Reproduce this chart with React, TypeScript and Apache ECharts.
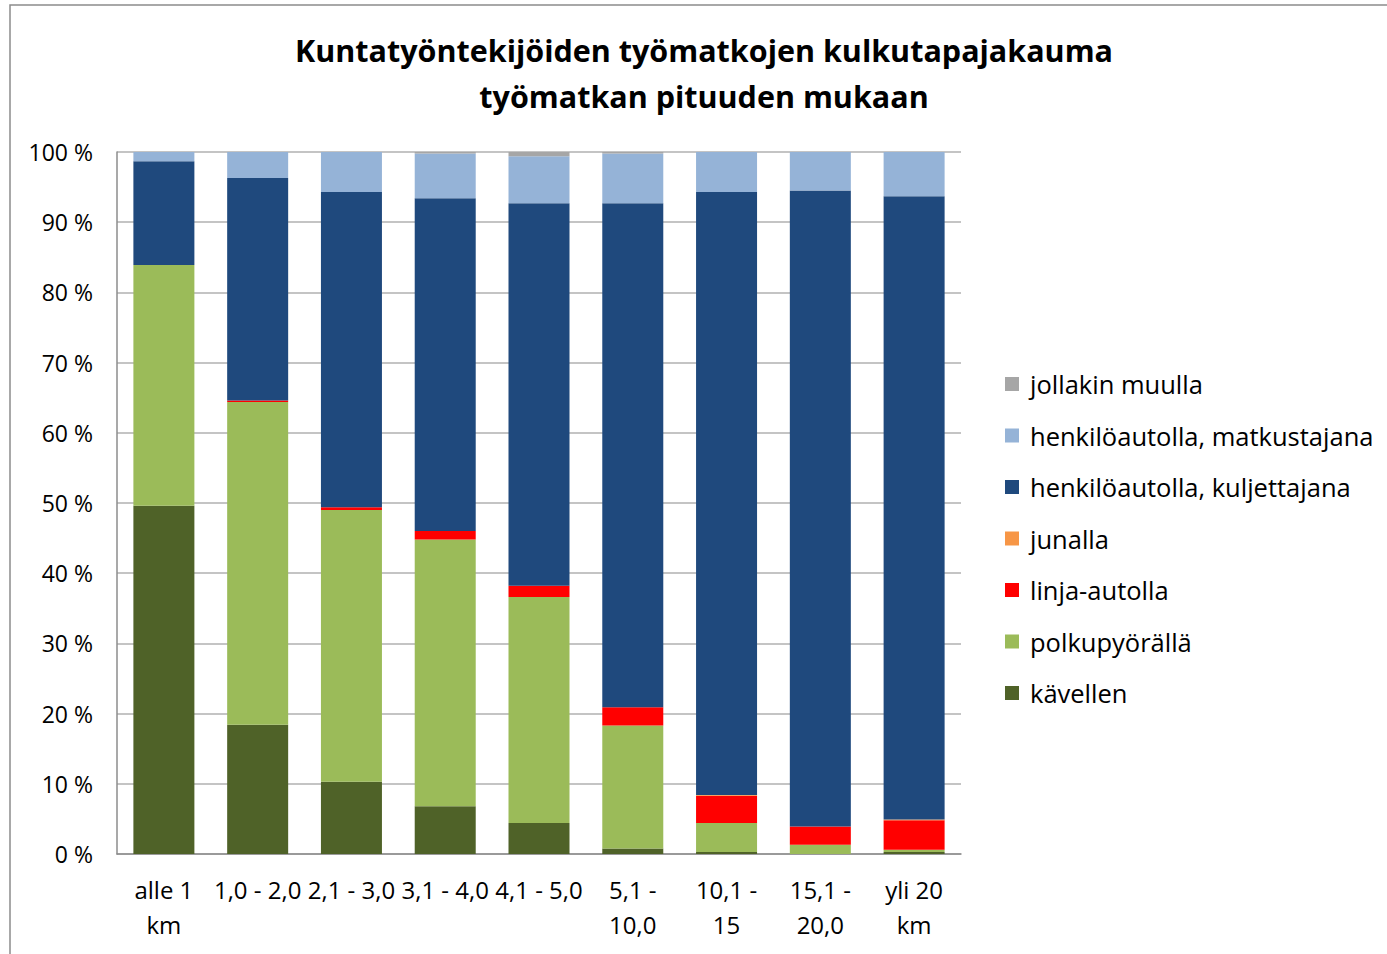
import React, { useEffect, useRef } from "react";
import * as echarts from "echarts";

const categories = ["alle 1\nkm", "1,0 - 2,0", "2,1 - 3,0", "3,1 - 4,0", "4,1 - 5,0", "5,1 -\n10,0", "10,1 -\n15", "15,1 -\n20,0", "yli 20\nkm"];
const kavellen = [49.6, 18.4, 10.3, 6.8, 4.4, 0.8, 0.3, 0, 0.3];
const polkupyoralla = [34.3, 46.0, 38.7, 38.0, 32.2, 17.5, 4.1, 1.3, 0.3];
const linjaAutolla = [0, 0.2, 0.4, 1.2, 1.6, 2.6, 3.9, 2.6, 4.2];
const junalla = [0, 0, 0, 0, 0, 0, 0.1, 0, 0.1];
const kuljettajana = [14.8, 31.7, 44.9, 47.4, 54.5, 71.8, 85.9, 90.6, 88.8];
const matkustajana = [1.3, 3.7, 5.7, 6.4, 6.7, 7.1, 5.7, 5.5, 6.3];
const muulla = [0, 0, 0, 0.2, 0.6, 0.2, 0, 0, 0];
const yTicks = [0, 10, 20, 30, 40, 50, 60, 70, 80, 90, 100];

const seriesDefs = [
  { name: "kävellen", data: kavellen, color: "#4F6228" },
  { name: "polkupyörällä", data: polkupyoralla, color: "#9BBB59" },
  { name: "linja-autolla", data: linjaAutolla, color: "#FF0000" },
  { name: "junalla", data: junalla, color: "#F79646" },
  { name: "henkilöautolla, kuljettajana", data: kuljettajana, color: "#1F497D" },
  { name: "henkilöautolla, matkustajana", data: matkustajana, color: "#95B3D7" },
  { name: "jollakin muulla", data: muulla, color: "#A6A6A6" },
];

const FONT = "'Open Sans', Lato, sans-serif";

export default function App() {
  const ref = useRef<HTMLDivElement>(null);
  useEffect(() => {
    if (!ref.current) return;
    const chart = echarts.init(ref.current, null, { renderer: "svg" });
    chart.setOption({
      animation: false,
      backgroundColor: "#ffffff",
      textStyle: { fontFamily: FONT },
      graphic: [
        {
          type: "polyline",
          shape: { points: [[10, 954], [10, 5], [1387, 5]] },
          style: { stroke: "#8c8c8c", fill: "none", lineWidth: 1.5 },
        },
        {
          type: "text",
          x: 704,
          y: 73,
          style: {
            text: "Kuntatyöntekijöiden työmatkojen kulkutapajakauma\ntyömatkan pituuden mukaan",
            align: "center",
            verticalAlign: "middle",
            font: "bold 30.5px " + FONT,
            lineHeight: 46,
            fill: "#000",
          },
        },
      ],
      legend: {
        orient: "vertical",
        left: 1005,
        top: 371,
        padding: 0,
        itemWidth: 14,
        itemHeight: 14,
        itemGap: 25.5,
        icon: "rect",
        data: seriesDefs.map((s) => s.name).reverse(),
        textStyle: { fontSize: 25.5, lineHeight: 24, color: "#000", fontFamily: FONT, padding: [0, 0, 0, 6] },
      },
      grid: { left: 117, right: 426, top: 152, bottom: 100, containLabel: false },
      xAxis: {
        type: "category",
        data: categories,
        axisLine: { lineStyle: { color: "#8c8c8c", width: 1.5 } },
        axisTick: { show: false },
        axisLabel: { interval: 0, fontSize: 24, color: "#000", lineHeight: 35, margin: 18, fontFamily: FONT },
      },
      yAxis: {
        type: "value",
        min: 0,
        max: 100,
        interval: 10,
        axisLine: { show: true, lineStyle: { color: "#8c8c8c", width: 1.5 } },
        axisTick: { show: false },
        splitLine: { lineStyle: { color: "#b0b0b0", width: 1.5 } },
        axisLabel: {
          fontSize: 23,
          color: "#000",
          margin: 24,
          fontFamily: FONT,
          formatter: (v: number) => (yTicks.indexOf(v) >= 0 ? v + " %" : ""),
        },
      },
      series: seriesDefs.map((s) => ({
        name: s.name,
        type: "bar",
        stack: "total",
        barWidth: 61,
        data: s.data,
        itemStyle: { color: s.color },
      })),
    });
    return () => chart.dispose();
  }, []);
  return <div ref={ref} style={{ position: "fixed", left: 0, top: 0, width: 1387, height: 954 }} />;
}
